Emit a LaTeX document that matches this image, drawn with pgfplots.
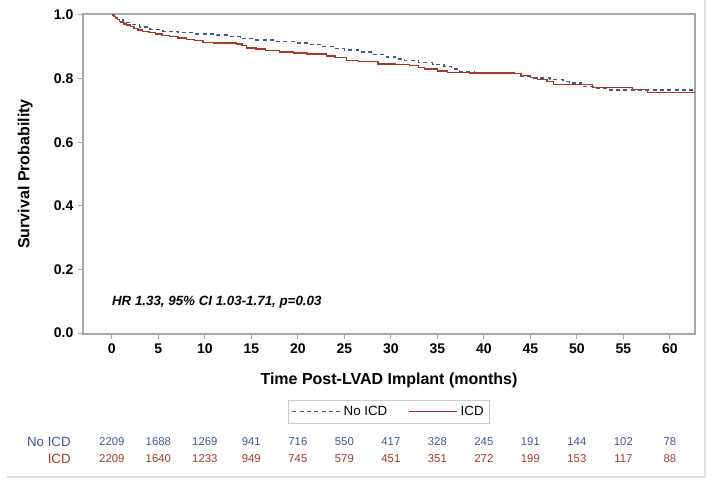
\documentclass[border=0pt]{standalone}
\usepackage{pgfplots}
\pgfplotsset{compat=1.18}
\usepackage{fontspec}
\setmainfont{Liberation Sans}
\definecolor{noicd}{HTML}{445694}
\definecolor{icd}{HTML}{A23A2E}
\definecolor{framegray}{HTML}{A8A8A8}
\begin{document}
\begin{tikzpicture}
\path[use as bounding box] (0,0) rectangle (535.5pt,363pt);
\draw[gray!25, line width=1pt] (5.25pt,5.25pt) -- (528.75pt,5.25pt) -- (528.75pt,363pt);
\begin{axis}[
  at={(62.25pt,112.5pt)}, anchor=south west,
  scale only axis, width=459pt, height=240pt,
  xmin=-3.1, xmax=62.7, ymin=-0.003, ymax=1.003,
  xtick={0,5,10,15,20,25,30,35,40,45,50,55,60},
  ytick={0,0.2,0.4,0.6,0.8,1.0},
  yticklabel style={/pgf/number format/.cd, fixed, fixed zerofill, precision=1},
  tick pos=left, tick align=outside, major tick length=3.75pt,
  axis line style={framegray, line width=0.8pt},
  tick style={framegray, line width=0.75pt},
  /pgf/number format/assume math mode=true,
  ticklabel style={font=\bfseries\fontsize{10.5}{12}\selectfont},
  xlabel={Time Post-LVAD Implant (months)},
  ylabel={Survival Probability},
  label style={font=\bfseries\fontsize{12}{14}\selectfont},
  xlabel style={at={(axis description cs:0.5,-0.14375)}, anchor=center},
  ylabel style={at={(axis description cs:-0.0945,0.5)}, anchor=center},
  clip=false,
  legend style={at={(axis description cs:0.5,-0.242)}, anchor=center,
    legend columns=2, draw=gray!40, font=\fontsize{10}{12}\selectfont,
    inner sep=2.5pt,
    /tikz/every even column/.append style={column sep=14pt}},
  legend image code/.code={\draw[#1] (0pt,0pt) -- (36pt,0pt);},
]
\addplot[const plot, noicd, line width=1pt, dash pattern=on 3pt off 2.5pt] coordinates {
(0,1.000) (0.3,0.992) (0.6,0.985) (1.2,0.976) (2.0,0.970) (3.0,0.962)
(4.1,0.955) (5.5,0.949) (7.1,0.944) (9.0,0.940) (11.3,0.937) (12.5,0.932)
(13.8,0.925) (15.5,0.921) (17.5,0.917) (19.7,0.912) (21.0,0.907) (22.5,0.901)
(23.9,0.895) (25.0,0.890) (26.5,0.883) (28.1,0.875) (29.5,0.868) (30.5,0.862)
(31.5,0.856) (33.0,0.850) (34.5,0.844) (35.7,0.838) (36.5,0.830) (37.4,0.823)
(39.0,0.818) (40.8,0.815) (43.3,0.815) (44.0,0.808) (45.0,0.802) (47.1,0.797)
(48.5,0.790) (49.2,0.786) (50.5,0.775) (52.0,0.769) (53.4,0.764) (62.7,0.764)
};
\addlegendentry{No ICD}
\addplot[const plot, icd, line width=1pt] coordinates {
(0,1.000) (0.2,0.995) (0.4,0.990) (0.6,0.985) (0.8,0.980) (1.0,0.976)
(1.3,0.972) (1.6,0.968) (2.0,0.963) (2.4,0.958) (2.8,0.953) (3.3,0.948)
(4.0,0.944) (4.7,0.940) (5.4,0.936) (6.2,0.932) (7.1,0.927) (8.0,0.923)
(8.9,0.919) (9.8,0.914) (11.0,0.912) (13.4,0.909) (14.0,0.903) (14.5,0.896)
(15.5,0.893) (16.5,0.889) (18.0,0.884) (19.5,0.880) (21.0,0.877) (23.1,0.871)
(24.0,0.866) (25.2,0.857) (26.5,0.853) (28.6,0.846) (30.5,0.845) (32.0,0.841)
(33.0,0.835) (33.6,0.830) (35.0,0.824) (36.1,0.820) (38.5,0.818) (43.3,0.816)
(44.0,0.810) (45.0,0.803) (45.8,0.797) (46.8,0.791) (47.5,0.781) (51.7,0.771)
(56.0,0.765) (57.6,0.757) (62.7,0.757)
};
\addlegendentry{ICD}
\node[anchor=west, inner sep=0pt, font=\bfseries\itshape\fontsize{10}{12}\selectfont] at (axis cs:0,0.097) {HR 1.33, 95\% CI 1.03-1.71, p=0.03};
\pgfplotsinvokeforeach{0,5,10,15,20,25,30,35,40,45,50,55,60}{\coordinate (t#1) at (axis cs:#1,0);}
\end{axis}
\coordinate (r1) at (0,31.5pt);
\coordinate (r2) at (0,18.75pt);
\node[anchor=east, inner sep=0pt, text=noicd, font=\fontsize{10}{12}\selectfont] at (53.25pt,31.5pt) {No ICD};
\node[anchor=east, inner sep=0pt, text=icd, font=\fontsize{10}{12}\selectfont] at (53.25pt,18.75pt) {ICD};
\foreach \m/\a/\b in {0/2209/2209, 5/1688/1640, 10/1269/1233, 15/941/949, 20/716/745, 25/550/579, 30/417/451, 35/328/351, 40/245/272, 45/191/199, 50/144/153, 55/102/117, 60/78/88} {
  \node[text=noicd, font=\fontsize{8.5}{10}\selectfont] at (t\m |- r1) {\a};
  \node[text=icd, font=\fontsize{8.5}{10}\selectfont] at (t\m |- r2) {\b};
}
\end{tikzpicture}
\end{document}
